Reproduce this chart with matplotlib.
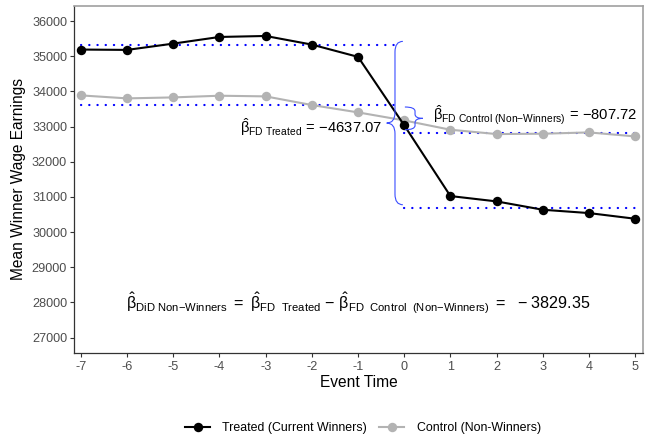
import matplotlib
matplotlib.use('Agg')
import matplotlib.pyplot as plt
from matplotlib.path import Path
from matplotlib.patches import PathPatch
from matplotlib.lines import Line2D

plt.rcParams['font.family'] = ['Liberation Sans', 'DejaVu Sans']
plt.rcParams['mathtext.fontset'] = 'custom'
plt.rcParams['mathtext.rm'] = 'Liberation Sans'
plt.rcParams['mathtext.it'] = 'Liberation Sans:italic'
plt.rcParams['mathtext.bf'] = 'Liberation Sans:bold'
plt.rcParams['axes.unicode_minus'] = False

# data
event_time = [-7, -6, -5, -4, -3, -2, -1, 0, 1, 2, 3, 4, 5]
treated = [35189, 35179, 35358, 35547, 35575, 35330, 34981,
           33037, 31025, 30873, 30636, 30541, 30380]
control = [33886, 33801, 33829, 33877, 33858, 33612, 33403,
           33175, 32910, 32787, 32797, 32834, 32720]

# pre/post levels shown as dotted lines
treated_levels = [35325, 30688]
control_levels = [33620, 32812]
pre_span = [-7, -0.2]
post_span = [0, 5]

fd_treated = -4637.07
fd_control = -807.72
did = -3829.35

yticks = [27000, 28000, 29000, 30000, 31000, 32000, 33000, 34000, 35000, 36000]

TICK = '#4d4d4d'
GRAY = '#b3b3b3'
BLUE = '#0000ff'
BRACE = '#3a4dff'


def brace(ax, x, y_lo, y_hi, tip, end, r, **kw):
    ym = (y_lo + y_hi) / 2.0
    verts = [(x + end, y_hi), (x, y_hi), (x, y_hi - r),
             (x, ym + r),
             (x, ym), (x + tip, ym),
             (x, ym), (x, ym - r),
             (x, y_lo + r),
             (x, y_lo), (x + end, y_lo)]
    codes = [Path.MOVETO, Path.CURVE3, Path.CURVE3,
             Path.LINETO,
             Path.CURVE3, Path.CURVE3,
             Path.CURVE3, Path.CURVE3,
             Path.LINETO,
             Path.CURVE3, Path.CURVE3]
    ax.add_patch(PathPatch(Path(verts, codes), fill=False, **kw))


fig = plt.figure(figsize=(6.47, 4.40), dpi=100)
ax = fig.add_axes([74 / 647, 1 - 353 / 440, (643 - 74) / 647, (353 - 6) / 440])

dot = dict(color=BLUE, lw=1.6, linestyle=(0, (0.1, 3.6)), dash_capstyle='round', zorder=1)
for lev in (treated_levels, control_levels):
    ax.plot(pre_span, [lev[0], lev[0]], **dot)
    ax.plot(post_span, [lev[1], lev[1]], **dot)

ax.plot(event_time, control, color=GRAY, lw=1.5, marker='o', ms=6.8, mew=0, zorder=2)
ax.plot(event_time, treated, color='black', lw=1.5, marker='o', ms=6.8, mew=0, zorder=3)

brace(ax, -0.2, 30778, 35421, -0.18, 0.17, 300, color=BRACE, lw=0.8, zorder=4)
brace(ax, 0.234, 32910, 33556, 0.17, -0.22, 120, color=BRACE, lw=0.8, zorder=4)

ax.text(-0.49, 32825,
        r'$\hat{\mathrm{\beta}}_{\mathrm{FD\ Treated}}\,=\,{-}%.2f$' % abs(fd_treated),
        ha='right', va='baseline', fontsize=10.6)
ax.text(0.62, 33175,
        r'$\hat{\mathrm{\beta}}_{\mathrm{FD\ Control\ (Non{-}Winners)}}\,=\,{-}%.2f$' % abs(fd_control),
        ha='left', va='baseline', fontsize=10.6)
ax.text(-1.0, 27792,
        r'$\hat{\mathrm{\beta}}_{\mathrm{DiD\ Non{-}Winners}}\ =\ '
        r'\hat{\mathrm{\beta}}_{\mathrm{FD\ \ Treated}}\ {-}\ '
        r'\hat{\mathrm{\beta}}_{\mathrm{FD\ \ Control\ \ (Non{-}Winners)}}\ =\ \ {-}\ %.2f$' % abs(did),
        ha='center', va='baseline', fontsize=11.6)

ax.set_xlim(-7.15, 5.17)
ax.set_ylim(26564, 36427)
ax.set_xticks(event_time)
ax.set_yticks(yticks)
ax.tick_params(colors='#333333', labelcolor=TICK, labelsize=9.1, length=3, width=0.8, pad=2)
ax.tick_params(axis='x', pad=3)

for s in ('left', 'bottom'):
    ax.spines[s].set_color('#333333')
    ax.spines[s].set_linewidth(0.9)
for s in ('top', 'right'):
    ax.spines[s].set_color('#a0a0a0')
    ax.spines[s].set_linewidth(1.2)

ax.set_xlabel('Event Time', fontsize=11.2, labelpad=1)
ax.set_ylabel('Mean Winner Wage Earnings', fontsize=11.2, labelpad=4)

handles = [Line2D([], [], color='black', lw=1.5, marker='o', ms=6.8, mew=0),
           Line2D([], [], color=GRAY, lw=1.5, marker='o', ms=6.8, mew=0)]
fig.legend(handles, ['Treated (Current Winners)', 'Control (Non-Winners)'],
           loc='center', bbox_to_anchor=(0.561, 0.027), ncol=2, frameon=False,
           fontsize=8.9, handlelength=2.0, handletextpad=1.0, columnspacing=1.0)

fig.savefig('out.png', dpi=100)
